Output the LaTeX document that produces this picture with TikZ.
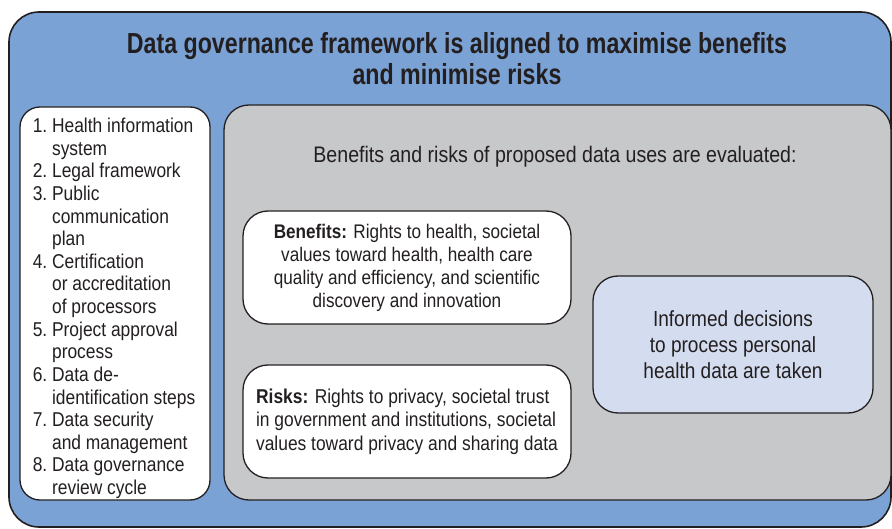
\documentclass[tikz,border=0pt]{standalone}
\usepackage{fontspec}
\setmainfont[FakeStretch=0.87]{Liberation Sans}
\newfontfamily\titlefont[FakeStretch=0.8]{Liberation Sans}
\definecolor{outerblue}{HTML}{7BA2D4}
\definecolor{boxgray}{HTML}{C7C8CA}
\definecolor{lightblue}{HTML}{D4DDF0}
\definecolor{ink}{HTML}{231F20}
\begin{document}
\begin{tikzpicture}[x=1pt,y=-1pt,
  panel/.style={draw=ink,line width=1.3pt,rounded corners=#1,inner sep=0pt},
  panel/.default=25pt,
  txt/.style={text=ink,inner sep=0pt}]
\useasboundingbox (0,0) rectangle (892,529);
\node[panel=30pt,line width=1.6pt,fill=outerblue,minimum width=882pt,minimum height=515pt] (outer) at (450,269.5) {};
\node[txt,align=center,font=\titlefont\fontsize{29}{31}\selectfont\bfseries] (title) at (457,59)
  {Data governance framework is aligned to maximise benefits\\and minimise risks};
\node[panel=20pt,fill=white,minimum width=190pt,minimum height=393pt] (steps) at (115,303.5) {};
\node[txt,font=\fontsize{20}{21.35}\selectfont] (list) at (114,309)
  {\def\arraystretch{1.06}\begin{tabular}{@{}r@{\ }l@{}}
  1.&Health information\\ &system\\
  2.&Legal framework\\
  3.&Public\\ &communication\\ &plan\\
  4.&Certification\\ &or accreditation\\ &of processors\\
  5.&Project approval\\ &process\\
  6.&Data de-\\ &identification steps\\
  7.&Data security\\ &and management\\
  8.&Data governance\\ &review cycle
  \end{tabular}};
\node[panel=25pt,fill=boxgray,minimum width=667pt,minimum height=395pt] (eval) at (557.5,302.5) {};
\node[txt,font=\fontsize{22.5}{26}\selectfont] (evalhead) at (555,157)
  {Benefits and risks of proposed data uses are evaluated:};
\node[panel=25pt,fill=white,minimum width=328pt,minimum height=113pt,
  align=center,text=ink,font=\fontsize{19.7}{23}\selectfont] (benefits) at (407,267.5)
  {\textbf{Benefits:} Rights to health, societal\\values toward health, health care\\quality and efficiency, and scientific\\discovery and innovation};
\node[panel=25pt,fill=white,minimum width=328pt,minimum height=113pt,
  align=left,text=ink,font=\fontsize{20}{23.5}\selectfont] (risks) at (407,421.5)
  {\textbf{Risks:} Rights to privacy, societal trust\\in government and institutions, societal\\values toward privacy and sharing data};
\node[panel=25pt,fill=lightblue,minimum width=280pt,minimum height=137pt,
  align=center,text=ink,font=\fontsize{21.9}{26}\selectfont] (decisions) at (733,344.5)
  {Informed decisions\\to process personal\\health data are taken};
\end{tikzpicture}
\end{document}
